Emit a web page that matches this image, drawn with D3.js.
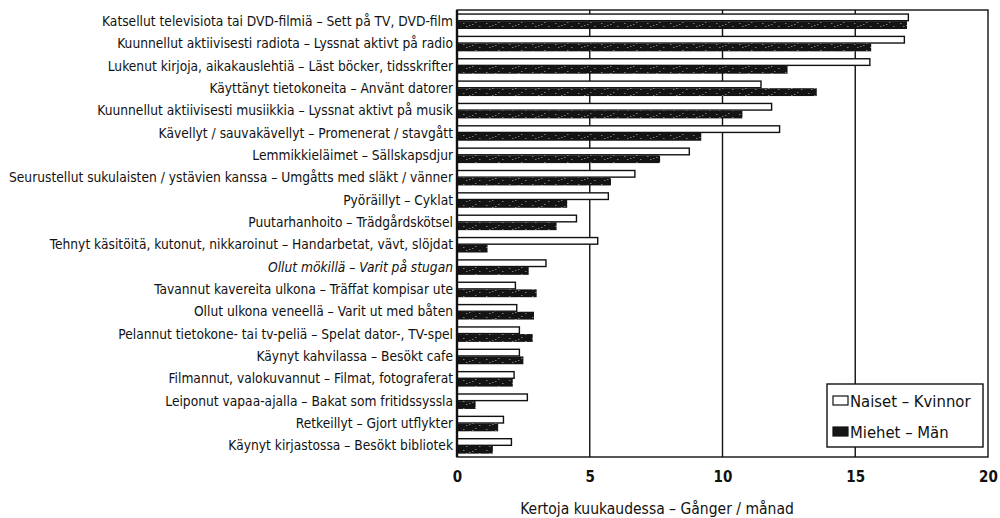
<!DOCTYPE html>
<html><head><meta charset="utf-8">
<script src="https://cdn.jsdelivr.net/npm/d3@7/dist/d3.min.js"></script>
<style>
html,body{margin:0;padding:0;background:#fff;}
svg{display:block;}
</style></head>
<body>
<svg id="chart" width="1000" height="518"></svg>
<script>
const categories = [
  "Katsellut televisiota tai DVD-filmiä – Sett på TV, DVD-film",
  "Kuunnellut aktiivisesti radiota – Lyssnat aktivt på radio",
  "Lukenut kirjoja, aikakauslehtiä – Läst böcker, tidsskrifter",
  "Käyttänyt tietokoneita – Använt datorer",
  "Kuunnellut aktiivisesti musiikkia – Lyssnat aktivt på musik",
  "Kävellyt / sauvakävellyt – Promenerat / stavgått",
  "Lemmikkieläimet – Sällskapsdjur",
  "Seurustellut sukulaisten / ystävien kanssa – Umgåtts med släkt / vänner",
  "Pyöräillyt – Cyklat",
  "Puutarhanhoito – Trädgårdskötsel",
  "Tehnyt käsitöitä, kutonut, nikkaroinut – Handarbetat, vävt, slöjdat",
  "Ollut mökillä – Varit på stugan",
  "Tavannut kavereita ulkona – Träffat kompisar ute",
  "Ollut ulkona veneellä – Varit ut med båten",
  "Pelannut tietokone- tai tv-peliä – Spelat dator-, TV-spel",
  "Käynyt kahvilassa – Besökt cafe",
  "Filmannut, valokuvannut – Filmat, fotograferat",
  "Leiponut vapaa-ajalla – Bakat som fritidssyssla",
  "Retkeillyt – Gjort utflykter",
  "Käynyt kirjastossa – Besökt bibliotek"
];
const italicCategories = ["Ollut mökillä – Varit på stugan"];
const naiset = [17.0, 16.85, 15.55, 11.45, 11.85, 12.15, 8.75, 6.7, 5.7, 4.5, 5.3, 3.35, 2.2, 2.25, 2.35, 2.35, 2.15, 2.65, 1.75, 2.05];
const miehet = [16.95, 15.6, 12.45, 13.55, 10.75, 9.2, 7.65, 5.8, 4.15, 3.75, 1.15, 2.7, 3.0, 2.9, 2.85, 2.5, 2.1, 0.7, 1.55, 1.35];
const seriesNames = ["Naiset – Kvinnor", "Miehet – Män"];
const xTicks = [0, 5, 10, 15, 20];
const gridTicks = [5, 10, 15];
const xTitle = "Kertoja kuukaudessa – Gånger / månad";

(function () {
const FONT = '"DejaVu Sans Condensed","Liberation Sans Narrow","Open Sans",sans-serif';
const svg = d3.select("#chart");
const pL = 457, pR = 988, pT = 10, pB = 457;

const x = d3.scaleLinear().domain([0, 20]).range([pL, pR]);
const y = d3.scaleBand().domain(categories).range([pT, pB]).paddingInner(0.3).paddingOuter(0.15);
const ySub = d3.scaleBand().domain(["n", "m"]).range([0, y.bandwidth()]).padding(0);

const LABEL_FS = 14.5;
const probe = svg.append("text").attr("font-family", FONT).attr("font-size", LABEL_FS).text(categories[7]);
const wLong = probe.node().getComputedTextLength();
probe.remove();
const squeeze = Math.min(1, 444 / wLong);

const defs = svg.append("defs");
const pat = defs.append("pattern").attr("id", "speck").attr("patternUnits", "userSpaceOnUse")
  .attr("width", 23).attr("height", 7);
pat.append("rect").attr("width", 23).attr("height", 7).attr("fill", "#141414");
[[3,2],[9,4],[15,1],[19,5],[6,5],[12,3]].forEach(p =>
  pat.append("rect").attr("x", p[0]).attr("y", p[1]).attr("width", 1.5).attr("height", 1).attr("fill", "#7a7a7a"));

svg.append("g").selectAll("line").data(gridTicks).join("line")
  .attr("x1", d => x(d)).attr("x2", d => x(d))
  .attr("y1", pT).attr("y2", pB)
  .attr("stroke", "#111").attr("stroke-width", 1.4);

const rows = categories.map((c, i) => ({c, n: naiset[i], m: miehet[i]}));
const g = svg.append("g");
g.selectAll("rect.n").data(rows).join("rect").attr("class", "n")
  .attr("x", x(0)).attr("y", d => y(d.c) + ySub("n") + 0.7)
  .attr("width", d => x(d.n) - x(0)).attr("height", ySub.bandwidth() - 1.2)
  .attr("fill", "#fff").attr("stroke", "#111").attr("stroke-width", 1.4);
g.selectAll("rect.m").data(rows).join("rect").attr("class", "m")
  .attr("x", x(0)).attr("y", d => y(d.c) + ySub("m"))
  .attr("width", d => x(d.m) - x(0)).attr("height", ySub.bandwidth())
  .attr("fill", "url(#speck)");

svg.append("rect").attr("x", pL).attr("y", pT).attr("width", pR - pL).attr("height", pB - pT)
  .attr("fill", "none").attr("stroke", "#111").attr("stroke-width", 1.4);
svg.append("line").attr("x1", pL).attr("x2", pL).attr("y1", pT).attr("y2", pB)
  .attr("stroke", "#111").attr("stroke-width", 2.4);

const yAxis = svg.append("g").attr("transform", `translate(${pL - 4},0)`)
  .call(d3.axisLeft(y).tickSize(0).tickPadding(0));
yAxis.select(".domain").remove();
yAxis.selectAll("text").attr("font-family", FONT).attr("font-size", LABEL_FS).attr("fill", "#111")
  .attr("font-style", d => italicCategories.includes(d) ? "italic" : "normal")
  .each(function () {
    const t = d3.select(this);
    const nat = this.getComputedTextLength();
    t.attr("textLength", nat * squeeze).attr("lengthAdjust", "spacingAndGlyphs");
  });

const xAxis = svg.append("g").attr("transform", `translate(0,${pB})`)
  .call(d3.axisBottom(x).tickValues(xTicks).tickSize(0).tickPadding(14).tickFormat(d3.format("d")));
xAxis.select(".domain").remove();
xAxis.selectAll("text").attr("font-family", FONT).attr("font-size", 15).attr("font-weight", "bold").attr("fill", "#111");

svg.append("text").attr("x", 657).attr("y", 514).attr("text-anchor", "middle")
  .attr("font-family", FONT).attr("font-size", 15.5).attr("fill", "#111").text(xTitle);

const lg = svg.append("g");
lg.append("rect").attr("x", 827).attr("y", 384).attr("width", 156).attr("height", 63)
  .attr("fill", "#fff").attr("stroke", "#111").attr("stroke-width", 1.4);
const legendY = [401, 432];
lg.selectAll("rect.sw").data(seriesNames).join("rect").attr("class", "sw")
  .attr("x", 833).attr("y", (d, i) => legendY[i] - 5).attr("width", 15).attr("height", 9)
  .attr("fill", (d, i) => i === 0 ? "#fff" : "#161616").attr("stroke", "#111").attr("stroke-width", 1.2);
lg.selectAll("text").data(seriesNames).join("text")
  .attr("x", 850).attr("y", (d, i) => legendY[i]).attr("dy", "0.35em")
  .attr("font-family", FONT).attr("font-size", 16.5).attr("fill", "#111").text(d => d);
})();
</script>
</body></html>
